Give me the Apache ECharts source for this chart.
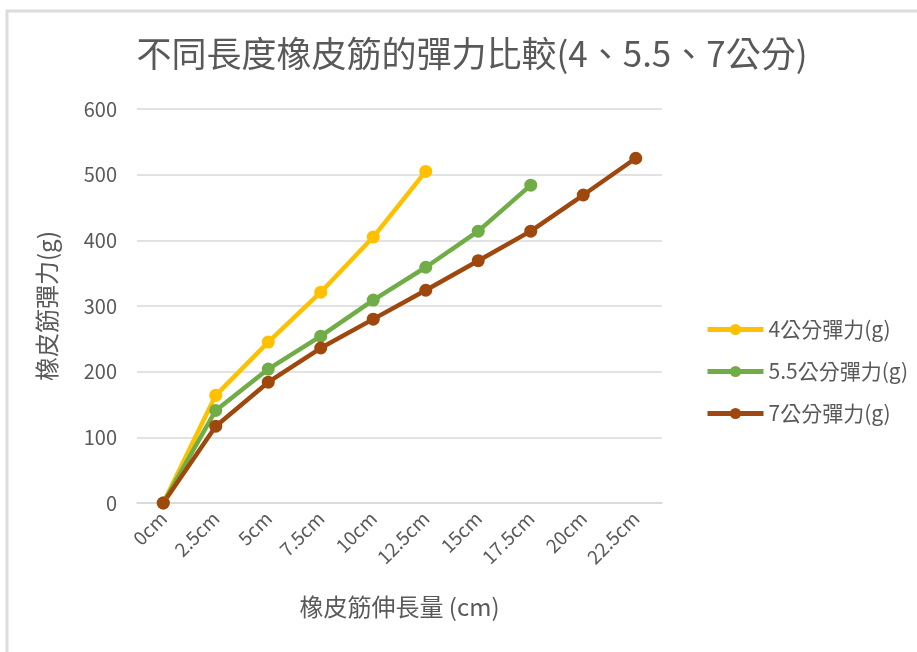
<!DOCTYPE html>
<html>
<head>
<meta charset="utf-8">
<script src="https://cdn.jsdelivr.net/npm/echarts@6/dist/echarts.min.js"></script>
<style>
    html, body { margin: 0; padding: 0; background: #fff; }
    #chart { width: 917px; height: 652px; }
</style>
</head>
<body>
<div id="chart"></div>
<script>
const categories = ['0cm', '2.5cm', '5cm', '7.5cm', '10cm', '12.5cm', '15cm', '17.5cm', '20cm', '22.5cm'];
const force4 = [0, 164, 245, 321, 405, 505];
const force55 = [0, 141, 204, 254, 309, 359, 414, 484];
const force7 = [0, 117, 184, 236, 280, 324, 369, 414, 469, 525];
const seriesNames = ['4公分彈力(g)', '5.5公分彈力(g)', '7公分彈力(g)'];
const colors = ['#FFC000', '#70AD47', '#9E480E'];

const font = '"Noto Sans CJK TC", "Noto Sans", sans-serif';
const textColor = '#595959';

const lineSeries = (name, data, color) => ({
    name,
    type: 'line',
    data,
    symbol: 'circle',
    symbolSize: 13,
    lineStyle: { width: 4.5, color },
    itemStyle: { color },
    z: 3
});

const chart = echarts.init(document.getElementById('chart'));
chart.setOption({
    animation: false,
    title: {
        text: '不同長度橡皮筋的彈力比較(4、5.5、7公分)',
        left: 467,
        top: 31,
        textAlign: 'center',
        textStyle: {
            fontFamily: font,
            fontSize: 35,
            fontWeight: 'normal',
            color: textColor
        }
    },
    legend: {
        orient: 'vertical',
        left: 700,
        top: 314,
        itemWidth: 56,
        itemHeight: 14,
        itemGap: 21,
        lineStyle: { width: 5 },
        textStyle: {
            fontFamily: font,
            fontSize: 21,
            color: textColor
        },
        data: seriesNames
    },
    grid: {
        left: 137,
        right: 255,
        top: 109,
        bottom: 149
    },
    xAxis: {
        type: 'category',
        boundaryGap: true,
        data: categories,
        name: '橡皮筋伸長量 (cm)',
        nameLocation: 'middle',
        nameGap: 92,
        nameTextStyle: {
            fontFamily: font,
            fontSize: 24,
            color: textColor
        },
        axisLine: { lineStyle: { color: '#d9d9d9', width: 1.5 } },
        axisTick: { show: false },
        axisLabel: {
            rotate: 45,
            fontFamily: font,
            fontSize: 19,
            color: textColor,
            margin: 12,
            interval: 0
        }
    },
    yAxis: {
        type: 'value',
        min: 0,
        max: 600,
        interval: 100,
        name: '橡皮筋彈力(g)',
        nameLocation: 'middle',
        nameGap: 78,
        nameRotate: 90,
        nameTextStyle: {
            fontFamily: font,
            fontSize: 24,
            color: textColor
        },
        axisLine: { show: false },
        axisTick: { show: false },
        axisLabel: {
            fontFamily: font,
            fontSize: 20,
            color: textColor,
            margin: 20
        },
        splitLine: { lineStyle: { color: '#d9d9d9', width: 1.5 } }
    },
    graphic: [
        {
            type: 'line',
            shape: { x1: 6, y1: 11, x2: 917, y2: 11 },
            style: { stroke: '#dcdcdc', lineWidth: 3 }
        },
        {
            type: 'line',
            shape: { x1: 7, y1: 10, x2: 7, y2: 652 },
            style: { stroke: '#dcdcdc', lineWidth: 3 }
        }
    ],
    series: [
        lineSeries(seriesNames[0], force4, colors[0]),
        lineSeries(seriesNames[1], force55, colors[1]),
        lineSeries(seriesNames[2], force7, colors[2])
    ]
});
</script>
</body>
</html>
